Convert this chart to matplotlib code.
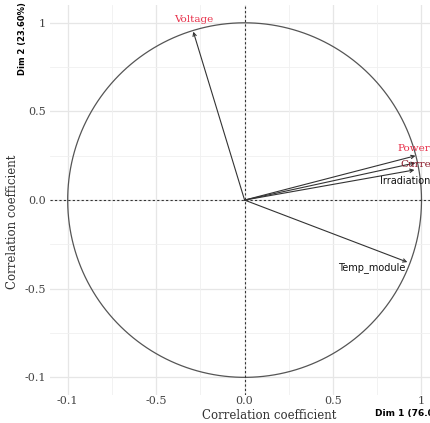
import numpy as np
import matplotlib.pyplot as plt

# variabler og koordinater (Dim 1, Dim 2)
variabler = ["Voltage", "Power", "Current", "Irradiation", "Temp_module"]
dim1 = [-0.29, 0.966, 0.966, 0.96, 0.92]
dim2 = [0.95, 0.25, 0.21, 0.17, -0.35]
etikett_x = [-0.29, 0.955, 1.0, 0.905, 0.72]
etikett_y = [1.02, 0.29, 0.2, 0.105, -0.38]
farger = ["#e8304a", "#e8304a", "#8b1a2a", "#111111", "#111111"]
fonter = ["serif", "serif", "serif", "sans-serif", "sans-serif"]
storrelse = [7.5, 7.5, 7.5, 7, 7]

xticks = [-1, -0.5, 0, 0.5, 1]
xticklabels = ["-0.1", "-0.5", "0.0", "0.5", "1"]
yticks = [-1, -0.5, 0, 0.5, 1]
yticklabels = ["-0.1", "-0.5", "0.0", "0.5", "1"]

fig = plt.figure(figsize=(4.31, 4.23), dpi=100)
ax = fig.add_axes([0.116, 0.066, 0.903, 0.922])
ax.set_xlim(-1.1, 1.1)
ax.set_ylim(-1.1, 1.1)

# rutenett
for v in [-1, -0.5, 0, 0.5, 1]:
    ax.axvline(v, color="#e6e6e6", lw=0.9, zorder=0)
    ax.axhline(v, color="#e6e6e6", lw=0.9, zorder=0)
for v in [-0.75, -0.25, 0.25, 0.75]:
    ax.axvline(v, color="#f0f0f0", lw=0.6, zorder=0)
    ax.axhline(v, color="#f0f0f0", lw=0.6, zorder=0)

# sirkel
t = np.linspace(0, 2 * np.pi, 400)
ax.plot(np.cos(t), np.sin(t), color="#555555", lw=0.9)
ax.axhline(0, color="#333333", lw=0.8, ls=(0, (2, 2)))
ax.axvline(0, color="#333333", lw=0.8, ls=(0, (2, 2)))

for i in range(len(variabler)):
    ax.annotate("", xy=(dim1[i], dim2[i]), xytext=(0, 0),
                arrowprops=dict(arrowstyle="->", color="#333333", lw=0.8,
                                mutation_scale=6, shrinkA=0, shrinkB=0))
    ax.text(etikett_x[i], etikett_y[i], variabler[i], color=farger[i],
            family=fonter[i], fontsize=storrelse[i], ha="center", va="center")

ax.set_xticks(xticks)
ax.set_xticklabels(xticklabels, family="serif", fontsize=8, color="#444444")
ax.set_yticks(yticks)
ax.set_yticklabels(yticklabels, family="serif", fontsize=8, color="#444444")
ax.tick_params(axis="x", length=0, pad=1)
ax.tick_params(axis="y", length=0, pad=3)
for s in ax.spines.values():
    s.set_visible(False)

fig.text(0.625, 0.018, "Correlation coefficient", family="serif", fontsize=8.5,
         color="#333333", ha="center", va="center")
fig.text(0.028, 0.475, "Correlation coefficient", family="serif", fontsize=8.5,
         color="#333333", ha="center", va="center", rotation=90)
fig.text(0.87, 0.022, "Dim 1 (76.08%)", fontsize=6.5, fontweight="bold",
         ha="left", va="center")
fig.text(0.052, 0.91, "Dim 2 (23.60%)", fontsize=6, fontweight="bold",
         ha="center", va="center", rotation=90)

fig.savefig("out.png", dpi=100)
